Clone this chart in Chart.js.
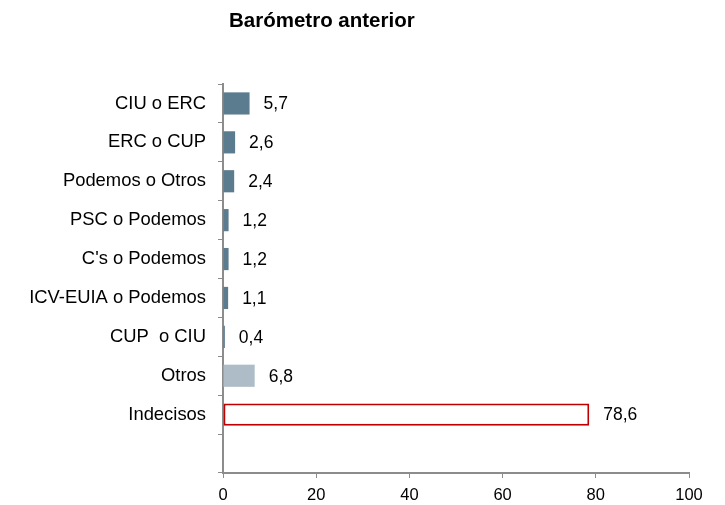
<!DOCTYPE html>
<html>
<head>
<meta charset="utf-8">
<script src="https://cdn.jsdelivr.net/npm/chart.js@4/dist/chart.umd.min.js"></script>
<style>
  html, body { margin: 0; padding: 0; background: #fff; }
  #wrap { position: relative; width: 725px; height: 505px; }
  #title {
    position: absolute; left: 229px; top: 8px;
    font: bold 20.5px "Liberation Sans", Arial, sans-serif; color: #000;
  }
  canvas { position: absolute; left: 0; top: 0; }
</style>
</head>
<body>
<div id="wrap">
  <canvas id="barChart" width="725" height="505"></canvas>
  <div id="title">Barómetro anterior</div>
</div>
<script>
const categories = ["CIU o ERC", "ERC o CUP", "Podemos o Otros", "PSC o Podemos", "C's o Podemos",
  "ICV-EUIA o Podemos", "CUP  o CIU", "Otros", "Indecisos", ""];
const values = [5.7, 2.6, 2.4, 1.2, 1.2, 1.1, 0.4, 6.8, 78.6, null];
const xTicks = [0, 20, 40, 60, 80, 100];

const fillColors = ["#5b7b8e", "#5b7b8e", "#5b7b8e", "#5b7b8e", "#5b7b8e", "#5b7b8e", "#5b7b8e",
  "#adbcc7", "#ffffff", "#ffffff"];
const borderColors = fillColors.map((c, i) => (i === 8 ? "#c00000" : c));
const borderWidths = fillColors.map((c, i) => (i === 8 ? 2 : 0));

const font = "Liberation Sans, Arial, sans-serif";

const valueLabels = {
  id: "valueLabels",
  afterDatasetsDraw(chart) {
    const ctx = chart.ctx;
    const meta = chart.getDatasetMeta(0);
    ctx.save();
    ctx.font = "17.5px " + font;
    ctx.fillStyle = "#000";
    ctx.textBaseline = "middle";
    ctx.textAlign = "left";
    meta.data.forEach((bar, i) => {
      const v = values[i];
      if (v === null) return;
      ctx.fillText(v.toFixed(1).replace(".", ","), bar.x + 14, bar.y + 1);
    });
    ctx.restore();
  },
};

new Chart(document.getElementById("barChart").getContext("2d"), {
  type: "bar",
  data: {
    labels: categories,
    datasets: [
      {
        data: values,
        backgroundColor: fillColors,
        borderColor: borderColors,
        borderWidth: borderWidths,
        borderSkipped: false,
        barPercentage: 0.57,
        categoryPercentage: 1,
      },
    ],
  },
  options: {
    indexAxis: "y",
    responsive: false,
    animation: false,
    layout: { padding: { left: 0, right: 36, top: 84, bottom: 0 } },
    plugins: { legend: { display: false }, title: { display: false }, tooltip: { enabled: false } },
    scales: {
      x: {
        min: 0,
        max: 100,
        afterBuildTicks: (scale) => {
          scale.ticks = xTicks.map((v) => ({ value: v }));
        },
        afterFit: (scale) => {
          scale.height = 32;
        },
        grid: { drawOnChartArea: false, drawTicks: true, tickLength: 5, color: "#8c8c8c" },
        border: { color: "#8c8c8c", width: 2 },
        ticks: { color: "#000", font: { family: font, size: 16.5 }, padding: 8 },
      },
      y: {
        afterFit: (scale) => {
          scale.width = 223;
        },
        grid: { drawOnChartArea: false, drawTicks: true, tickLength: 5, color: "#8c8c8c", offset: true },
        border: { color: "#8c8c8c", width: 2 },
        ticks: { color: "#000", font: { family: font, size: 18.4 }, padding: 12 },
      },
    },
  },
  plugins: [valueLabels],
});
</script>
</body>
</html>
